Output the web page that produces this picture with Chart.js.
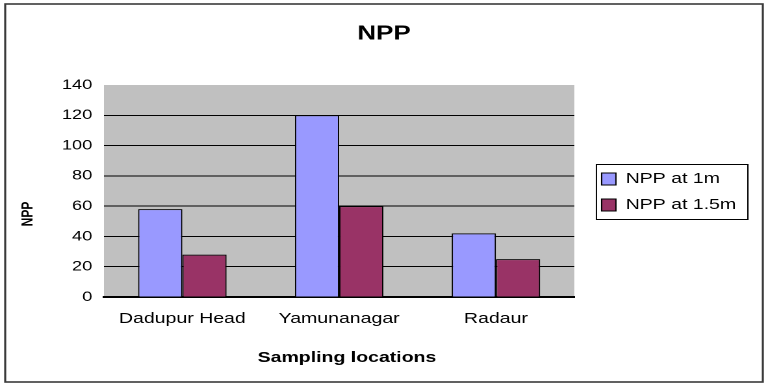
<!DOCTYPE html>
<html><head><meta charset="utf-8">
<script src="https://cdn.jsdelivr.net/npm/chart.js@4.4.1/dist/chart.umd.min.js"></script>
<style>
html,body{margin:0;padding:0;background:#fff;overflow:hidden;width:768px;height:390px;}
#wrap{position:absolute;left:0;top:0;width:591px;height:390px;transform:scaleX(1.29949);transform-origin:0 0;}
</style></head><body>
<div id="wrap"><canvas id="c"></canvas></div>
<script>
const chartTitle = 'NPP';
const yAxisTitle = 'NPP';
const xAxisTitle = 'Sampling locations';
const categories = ['Dadupur Head', 'Yamunanagar', 'Radaur'];
const seriesNames = ['NPP at 1m', 'NPP at 1.5m'];
const npp1m = [58, 120, 42];
const npp15m = [28, 60, 25];
const yTicks = [0, 20, 40, 60, 80, 100, 120, 140];

const FONT = "'Liberation Sans', Arial, sans-serif";
const LEGEND_SHIFT_X = 10;
const LEGEND_SHIFT_Y = -3;

const decorPlugin = {
  id: 'decor',
  afterLayout(chart) {
    // leave a small gap between the plot area and the legend box
    if (chart.legend) {
      chart.legend.left += LEGEND_SHIFT_X;
      chart.legend.right += LEGEND_SHIFT_X;
      chart.legend.top += LEGEND_SHIFT_Y;
      chart.legend.bottom += LEGEND_SHIFT_Y;
    }
  },
  beforeDraw(chart) {
    const {ctx, chartArea: a} = chart;
    ctx.save();
    ctx.fillStyle = '#ffffff';
    ctx.fillRect(0, 0, chart.width, chart.height);
    ctx.fillStyle = '#c0c0c0';
    ctx.fillRect(a.left, a.top, a.right - a.left, a.bottom - a.top);
    ctx.restore();
  },
  afterDraw(chart) {
    const {ctx, chartArea: a} = chart;
    ctx.save();
    // outer frame
    ctx.strokeStyle = '#3a3a3a';
    ctx.lineWidth = 1.6;
    ctx.strokeRect(4, 4, 583, 378);
    // legend frame
    const lg = chart.legend;
    const hb = lg && lg.legendHitBoxes;
    if (hb && hb.length) {
      const first = hb[0], last = hb[hb.length - 1];
      const top = first.top - 7;
      const bottom = last.top + last.height + 7;
      const left = lg.left + 7;
      const right = lg.right - 1;
      ctx.strokeStyle = '#000';
      ctx.lineWidth = 1;
      ctx.strokeRect(left, top, right - left, bottom - top);
    }
    // axis titles
    ctx.fillStyle = '#000';
    ctx.textAlign = 'center';
    ctx.textBaseline = 'middle';
    ctx.font = "bold 15px " + FONT;
    ctx.fillText(xAxisTitle, (a.left + a.right) / 2 + 6, a.bottom + 61);
    ctx.translate(a.left - 58.5, (a.top + a.bottom) / 2 + 23);
    ctx.rotate(-Math.PI / 2);
    ctx.font = "bold 12px " + FONT;
    ctx.fillText(yAxisTitle, 0, 0);
    ctx.restore();
  }
};

new Chart(document.getElementById('c'), {
  type: 'bar',
  data: {
    labels: categories,
    datasets: [
      { label: seriesNames[0], data: npp1m, backgroundColor: '#9999ff', borderColor: '#000', borderWidth: 1 },
      { label: seriesNames[1], data: npp15m, backgroundColor: '#993366', borderColor: '#000', borderWidth: 1 }
    ]
  },
  options: {
    responsive: true,
    maintainAspectRatio: false,
    devicePixelRatio: 2,
    animation: false,
    datasets: { bar: { categoryPercentage: 0.564, barPercentage: 1 } },
    layout: { padding: { left: 24.5, right: 24.5, top: 0, bottom: 0 } },
    plugins: {
      title: {
        display: true, text: chartTitle, color: '#000',
        font: { family: FONT, size: 20, weight: 'bold' },
        padding: { top: 22, bottom: 39 }
      },
      legend: {
        position: 'right', align: 'center',
        labels: {
          color: '#000', boxWidth: 11, boxHeight: 12, padding: 11,
          font: { family: FONT, size: 15 }
        }
      },
      tooltip: { enabled: false }
    },
    scales: {
      x: {
        grid: { display: false },
        border: { display: true, color: '#000', width: 2 },
        ticks: { color: '#000', padding: 5, font: { family: FONT, size: 15 } },
        afterFit(s) { s.height = 93; }
      },
      y: {
        min: yTicks[0], max: yTicks[yTicks.length - 1],
        ticks: { stepSize: yTicks[1] - yTicks[0], color: '#000', padding: 9, font: { family: FONT, size: 14 } },
        grid: { drawTicks: false, color: (c) => (c.tick && c.tick.value === yTicks[yTicks.length - 1]) ? 'rgba(0,0,0,0)' : '#000', lineWidth: 1 },
        border: { display: false },
        afterFit(s) { s.width = 55.5; }
      }
    }
  },
  plugins: [decorPlugin]
});
</script>
</body></html>
